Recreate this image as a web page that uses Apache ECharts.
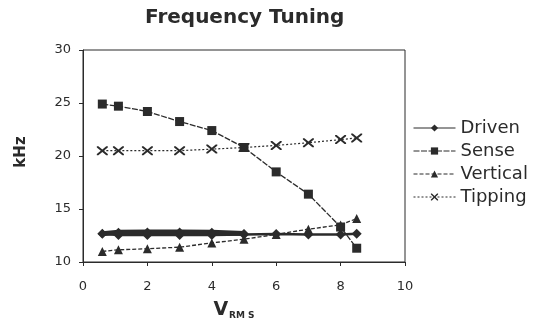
<!DOCTYPE html>
<html>
<head>
<meta charset="utf-8">
<script src="https://cdn.jsdelivr.net/npm/echarts@6/dist/echarts.min.js"></script>
<style>html,body{margin:0;padding:0;background:#fff;}#c{width:538px;height:327px;}</style>
</head>
<body>
<div id="c"></div>
<script>
var xVals = [0.6, 1.1, 2, 3, 4, 5, 6, 7, 8, 8.5];
var driven = [12.67, 12.55, 12.55, 12.55, 12.55, 12.6, 12.65, 12.6, 12.6, 12.67];
var drivenReturnX = [0.6, 1.1, 2, 3, 4, 5];
var drivenReturn = [12.67, 12.8, 12.82, 12.82, 12.8, 12.68];
var sense = [24.9, 24.7, 24.2, 23.25, 22.4, 20.8, 18.5, 16.4, 13.3, 11.3];
var vertical = [11.0, 11.15, 11.25, 11.4, 11.8, 12.15, 12.6, 13.1, 13.5, 14.1];
var tipping = [20.5, 20.5, 20.5, 20.5, 20.65, 20.8, 21.0, 21.25, 21.55, 21.7];
var seriesNames = ['Driven', 'Sense', 'Vertical', 'Tipping'];
var xTicks = [0, 2, 4, 6, 8, 10];
var yTicks = [10, 15, 20, 25, 30];

function pairs(xs, ys) { return xs.map(function (x, i) { return [x, ys[i]]; }); }

var ink = '#2b2b2b';
var font = 'DejaVu Sans';
var crossPath = 'path://M0,0L1.4,0L5,3.6L8.6,0L10,0L10,1.4L6.4,5L10,8.6L10,10L8.6,10L5,6.4L1.4,10L0,10L0,8.6L3.6,5L0,1.4Z';

var chart = echarts.init(document.getElementById('c'), null, {renderer: 'canvas'});
chart.setOption({
  backgroundColor: '#fff',
  animation: false,
  title: {
    text: 'Frequency Tuning',
    left: 140, top: 3,
    textStyle: {fontFamily: font, fontSize: 20, fontWeight: 'bold', color: ink}
  },
  grid: {left: 83, right: 133, top: 50, bottom: 65, show: true, borderColor: ink, borderWidth: 1},
  legend: {
    data: seriesNames,
    orient: 'vertical',
    left: 408, top: 114,
    itemWidth: 42, itemHeight: 9, itemGap: 5,
    lineStyle: {width: 1},
    textStyle: {fontFamily: font, fontSize: 18, color: ink}
  },
  xAxis: {
    type: 'value', min: xTicks[0], max: xTicks[xTicks.length - 1], interval: 2,
    name: '{v|V}{s|RM S}', nameLocation: 'middle', nameGap: 39,
    nameTextStyle: {
      padding: [0, 20, 0, 0],
      rich: {
        v: {fontFamily: font, fontSize: 19, fontWeight: 'bold', color: ink},
        s: {fontFamily: font, fontSize: 9, fontWeight: 'bold', color: ink, verticalAlign: 'bottom', padding: [8, 0, 0, 1]}
      }
    },
    axisLine: {lineStyle: {color: ink, width: 1}},
    axisTick: {length: 4, lineStyle: {color: ink}},
    axisLabel: {fontFamily: font, fontSize: 13, color: ink, margin: 18},
    splitLine: {show: false}
  },
  yAxis: {
    type: 'value', min: yTicks[0], max: yTicks[yTicks.length - 1], interval: 5,
    name: 'kHz', nameLocation: 'middle', nameGap: 54,
    nameTextStyle: {fontFamily: font, fontSize: 15, fontWeight: 'bold', color: ink, padding: [0, 0, 0, 8]},
    axisLine: {show: true, lineStyle: {color: ink, width: 1}},
    axisTick: {show: true, length: 4, lineStyle: {color: ink}},
    axisLabel: {fontFamily: font, fontSize: 13, color: ink, margin: 12},
    splitLine: {show: false}
  },
  series: [
    {
      name: 'Driven', type: 'line', data: pairs(xVals, driven),
      symbol: 'diamond', symbolSize: 10,
      lineStyle: {color: ink, width: 2.5, type: 'solid'},
      itemStyle: {color: ink}
    },
    {
      name: 'Driven return', type: 'line', data: pairs(drivenReturnX, drivenReturn),
      symbol: 'diamond', symbolSize: 9,
      lineStyle: {color: ink, width: 5, type: 'solid'},
      itemStyle: {color: ink}
    },
    {
      name: 'Sense', type: 'line', data: pairs(xVals, sense),
      symbol: 'rect', symbolSize: 9,
      lineStyle: {color: ink, width: 1.3, type: [6, 1.5]},
      itemStyle: {color: ink}
    },
    {
      name: 'Vertical', type: 'line', data: pairs(xVals, vertical),
      symbol: 'triangle', symbolSize: 9,
      lineStyle: {color: ink, width: 1.3, type: [4, 2]},
      itemStyle: {color: ink}
    },
    {
      name: 'Tipping', type: 'line', data: pairs(xVals, tipping),
      symbol: crossPath, symbolSize: [11, 9],
      lineStyle: {color: ink, width: 1.2, type: [2, 2]},
      itemStyle: {color: ink}
    }
  ]
});
</script>
</body>
</html>
